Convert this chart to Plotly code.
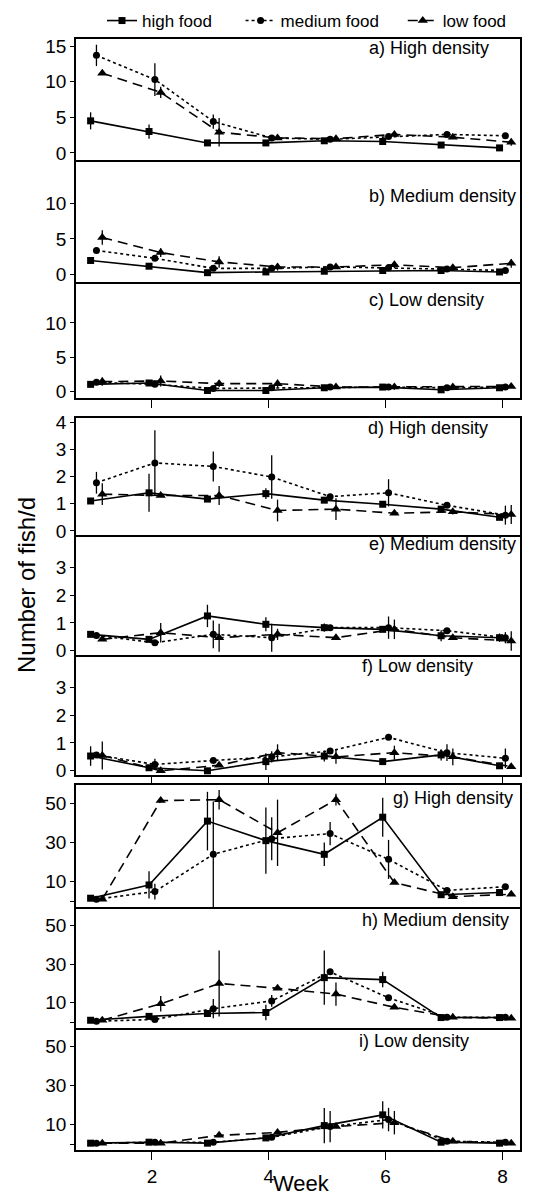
import plotly.graph_objects as go

# ---------------- data ----------------
weeks = [1, 2, 3, 4, 5, 6, 7, 8]
week_ticks = [2, 4, 6, 8]
series_names = ["high food", "medium food", "low food"]
panel_titles = ["a) High density", "b) Medium density", "c) Low density",
                "d) High density", "e) Medium density", "f) Low density",
                "g) High density", "h) Medium density", "i) Low density"]

a_high = [4.5, 3.0, 1.4, 1.4, 1.7, 1.6, 1.1, 0.7]
a_high_err = [1.2, 1.0, 0, 0, 0, 0, 0, 0]
a_med = [13.7, 10.3, 4.4, 2.1, 1.9, 2.3, 2.6, 2.4]
a_med_err = [1.5, 2.3, 1.0, 0, 0, 0, 0, 0]
a_low = [11.2, 8.5, 2.9, 2.1, 2.0, 2.6, 2.2, 1.5]
a_low_err = [0, 0.8, 2.0, 0, 0, 0.4, 0, 0.5]

b_high = [2.0, 1.2, 0.3, 0.4, 0.5, 0.6, 0.6, 0.4]
b_high_err = [0, 0, 0, 0, 0, 0, 0, 0]
b_med = [3.4, 2.3, 0.9, 0.9, 1.1, 1.0, 0.8, 0.6]
b_med_err = [0, 0, 0, 0, 0, 0, 0, 0]
b_low = [5.2, 3.1, 1.8, 1.1, 1.1, 1.4, 1.0, 1.6]
b_low_err = [1.0, 0.6, 0.8, 0.5, 0, 0.5, 0.4, 0.6]

c_high = [1.0, 1.2, 0.1, 0.1, 0.5, 0.6, 0.2, 0.5]
c_high_err = [0, 0, 0, 0, 0, 0, 0, 0]
c_med = [1.3, 1.0, 0.4, 0.5, 0.6, 0.6, 0.5, 0.6]
c_med_err = [0, 0, 0, 0, 0, 0, 0, 0]
c_low = [1.4, 1.5, 1.1, 1.1, 0.6, 0.6, 0.6, 0.7]
c_low_err = [0.6, 0.8, 0.5, 0.6, 0, 0.4, 0.4, 0]

d_high = [1.1, 1.4, 1.17, 1.37, 1.13, 0.98, 0.8, 0.5]
d_high_err = [0, 0.7, 0.1, 0.2, 0, 0, 0, 0]
d_med = [1.77, 2.5, 2.37, 1.98, 1.26, 1.4, 0.94, 0.58]
d_med_err = [0.4, 1.2, 0.55, 0.8, 0, 0.5, 0.1, 0.35]
d_low = [1.35, 1.3, 1.3, 0.75, 0.8, 0.65, 0.7, 0.6]
d_low_err = [0.4, 0, 0.35, 0.4, 0.4, 0, 0.1, 0.35]

e_high = [0.59, 0.41, 1.25, 0.95, 0.83, 0.77, 0.54, 0.47]
e_high_err = [0, 0, 0.4, 0.25, 0.15, 0, 0.2, 0.15]
e_med = [0.55, 0.29, 0.59, 0.47, 0.83, 0.83, 0.72, 0.47]
e_med_err = [0, 0, 0.5, 0.5, 0, 0.4, 0, 0.2]
e_low = [0.41, 0.65, 0.47, 0.59, 0.47, 0.77, 0.47, 0.35]
e_low_err = [0, 0.35, 0.5, 0.2, 0, 0.35, 0, 0.35]

f_high = [0.53, 0.11, 0.0, 0.33, 0.53, 0.33, 0.57, 0.18]
f_high_err = [0.35, 0, 0, 0.3, 0.2, 0, 0.2, 0]
f_med = [0.57, 0.23, 0.37, 0.5, 0.71, 1.2, 0.65, 0.45]
f_med_err = [0, 0.2, 0, 0.2, 0, 0, 0.3, 0.35]
f_low = [0.55, 0.0, 0.2, 0.65, 0.5, 0.65, 0.5, 0.15]
f_low_err = [0.5, 0, 0, 0.3, 0.25, 0.25, 0.3, 0]

g_high = [1.5, 8.3, 41, 31, 24, 43, 3.3, 4.4]
g_high_err = [0, 7, 15, 17, 6, 10, 0, 0]
g_med = [1.0, 4.9, 24, 32, 34.6, 21.4, 5.5, 7.4]
g_med_err = [0, 4, 27, 11, 6, 10, 0, 0]
g_low = [1.0, 51.5, 52, 35, 52, 9.5, 2.3, 3.5]
g_low_err = [0, 0, 5, 17, 3, 0, 0, 0]

h_high = [1.0, 3.0, 4.5, 5.0, 23, 22, 2.4, 2.4]
h_high_err = [0, 0, 0, 4, 14, 4, 0, 0]
h_med = [0.5, 1.4, 7, 11, 26, 12.6, 2.5, 2.5]
h_med_err = [0, 0, 5, 3, 0, 0, 0, 0]
h_low = [1.0, 9.5, 20, 17.5, 14.5, 7.7, 2.5, 2.0]
h_low_err = [0, 4, 17, 0, 6, 0, 0, 0]

i_high = [0.5, 1.0, 0.5, 3.2, 9.5, 15, 1.0, 0.5]
i_high_err = [0, 0, 0, 0, 9, 7, 0, 0]
i_med = [0.5, 1.0, 1.0, 3.5, 9, 12.6, 1.5, 1.0]
i_med_err = [0, 0, 0, 0, 8, 6, 0, 0]
i_low = [0.5, 0.5, 4.5, 6, 9, 11, 1.5, 0.5]
i_low_err = [0, 0, 0, 0, 0, 6, 0, 0]

panel_data = [
    (a_high, a_high_err, a_med, a_med_err, a_low, a_low_err),
    (b_high, b_high_err, b_med, b_med_err, b_low, b_low_err),
    (c_high, c_high_err, c_med, c_med_err, c_low, c_low_err),
    (d_high, d_high_err, d_med, d_med_err, d_low, d_low_err),
    (e_high, e_high_err, e_med, e_med_err, e_low, e_low_err),
    (f_high, f_high_err, f_med, f_med_err, f_low, f_low_err),
    (g_high, g_high_err, g_med, g_med_err, g_low, g_low_err),
    (h_high, h_high_err, h_med, h_med_err, h_low, h_low_err),
    (i_high, i_high_err, i_med, i_med_err, i_low, i_low_err),
]

# ---------------- layout / style ----------------
W, H = 548, 1196
L, R = 68, 512
TOP, BOT = 31, 1142
PH = BOT - TOP
FONT = "Arial, 'Liberation Sans', Helvetica, sans-serif"

panel_px = [(31, 152), (152, 274), (274, 390),
            (410, 527), (527, 647), (647, 767),
            (777, 899), (899, 1020), (1020, 1142)]
y_ranges = [[-1, 16]] * 3 + [[-0.15, 4.15]] * 3 + [[-3, 59.5]] * 3
y_ticks = [[0, 5, 10, 15], [0, 5, 10], [0, 5, 10],
           [0, 1, 2, 3, 4], [0, 1, 2, 3], [0, 1, 2, 3],
           [0, 10, 30, 50], [0, 10, 30, 50], [0, 10, 30, 50]]
label_px = [(483, 40), (510, 188), (478, 292), (482, 420), (510, 536),
            (467, 658), (507, 790), (503, 912), (463, 1033)]
group_top = (0, 3, 6)
legend_pad = [5, 4, 0]   # trailing spacing after legend entries

offsets = [-0.05, 0.05, 0.15]
styles = [
    dict(dash="solid", symbol="square", size=7),
    dict(dash="dot", symbol="circle", size=7),
    dict(dash="10px,6px", symbol="triangle-up", size=9),
]

def py(p):
    return (BOT - p) / PH

def px(p):
    return (p - L) / (R - L)

fig = go.Figure()
annotations = []

for k, (data, title) in enumerate(zip(panel_data, panel_titles)):
    ax = "" if k == 0 else str(k + 1)
    for s in range(3):
        yv = data[2 * s]
        ev = data[2 * s + 1]
        st = styles[s]
        fig.add_trace(go.Scatter(
            x=[w + offsets[s] for w in weeks], y=yv,
            xaxis="x" + ax, yaxis="y" + ax,
            mode="lines+markers",
            name=series_names[s] + "\u00a0" * legend_pad[s],
            showlegend=(k == 0),
            line=dict(color="black", width=1.6, dash=st["dash"]),
            marker=dict(symbol=st["symbol"], size=st["size"], color="black"),
            error_y=dict(type="data", array=ev, visible=True, color="black",
                         thickness=1.3, width=0),
            cliponaxis=True,
        ))
    t, b = panel_px[k]
    show_xticks = k in (2, 5, 8)
    xa = dict(
        domain=[0, 1], range=[0.7, 8.3], anchor="y" + ax,
        tickvals=week_ticks, ticks="outside" if show_xticks else "",
        ticklen=8, tickwidth=1.3, tickcolor="black",
        showticklabels=(k == 8), showgrid=False, zeroline=False,
        showline=True, mirror=(k in group_top), linecolor="black", linewidth=1.5,
        tickfont=dict(family=FONT, size=19, color="black"),
    )
    if k > 0:
        xa["matches"] = "x"
    ytext = [("" if (v == 0 and k >= 6) else str(v)) for v in y_ticks[k]]
    ya = dict(
        domain=[py(b), py(t)], range=y_ranges[k], anchor="x" + ax,
        tickvals=y_ticks[k], ticktext=ytext, ticks="outside", ticklen=4,
        tickwidth=1.3, tickcolor="black", showgrid=False, zeroline=False,
        showline=True, mirror=True, linecolor="black", linewidth=1.5,
        tickfont=dict(family=FONT, size=19, color="black"),
    )
    fig.layout["xaxis" + ax] = xa
    fig.layout["yaxis" + ax] = ya
    lx, ly = label_px[k]
    annotations.append(dict(
        text=title, xref="paper", yref="paper", x=px(lx), y=py(ly),
        xanchor="right", yanchor="middle", showarrow=False,
        font=dict(family=FONT, size=18, color="black"),
    ))

annotations.append(dict(
    text="Number of fish/d", xref="paper", yref="paper",
    x=px(18), y=py(577), xanchor="center", yanchor="middle",
    textangle=-90, showarrow=False,
    font=dict(family=FONT, size=24, color="black"),
))
annotations.append(dict(
    text="Week", xref="paper", yref="paper",
    x=px(293), y=py(1175), xanchor="center", yanchor="middle",
    showarrow=False, font=dict(family=FONT, size=22, color="black"),
))

fig.update_layout(
    width=W, height=H,
    margin=dict(l=L, r=W - R, t=TOP, b=H - BOT, pad=0, autoexpand=False),
    paper_bgcolor="white", plot_bgcolor="white",
    annotations=annotations,
    legend=dict(
        orientation="h", xref="paper", yref="paper",
        x=px(94), y=py(13), xanchor="left", yanchor="middle",
        font=dict(family=FONT, size=17, color="black"),
        bgcolor="rgba(0,0,0,0)", itemwidth=30, tracegroupgap=0,
    ),
    font=dict(family=FONT, color="black"),
)

fig.write_html("out.html")
